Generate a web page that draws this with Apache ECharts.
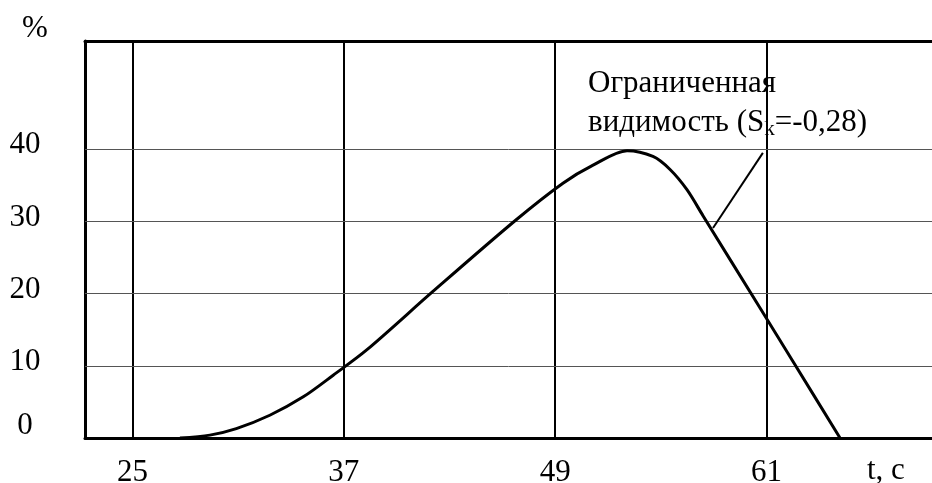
<!DOCTYPE html>
<html>
<head>
<meta charset="utf-8">
<script src="https://cdn.jsdelivr.net/npm/echarts@6/dist/echarts.min.js"></script>
<style>
html,body{margin:0;padding:0;background:#fff;}
#chart{width:932px;height:483px;}
</style>
</head>
<body>
<div id="chart"></div>
<script>
// ---- data ----
const xTicks = [25, 37, 49, 61];
const yTicks = [0, 10, 20, 30, 40];
const gridY = [10, 20, 30, 40];
const curveT = [27.7, 29.4, 30.9, 32.8, 34.7, 36.4, 38.3, 42.06, 46.72, 49.44, 51.15, 53.08, 54.55, 55.52, 56.48, 57.39, 60.63, 62.5, 65.17];
const curveP = [0, 0.4, 1.3, 3.15, 5.7, 8.7, 12.2, 20.3, 30.1, 35.3, 37.8, 39.8, 39.0, 37.2, 34.4, 30.8, 18.0, 10.6, 0];
const leaderT = [57.96, 60.79];
const leaderP = [29.1, 39.5];
const yUnit = '%';
const xUnit = 't, c';
const noteLine1 = 'Ограниченная';
const noteLine2a = 'видимость (S';
const noteSub = 'k';
const noteLine2b = '=-0,28)';

const FONT = 'Liberation Serif';
const chart = echarts.init(document.getElementById('chart'), null, {renderer: 'canvas'});
const xMin = 22.31, xMax = 70.39, yMin = 0, yMax = 55.0;

chart.setOption({
  animation: false,
  backgroundColor: '#fff',
  grid: {left: 85, right: 0, top: 41, bottom: 45, containLabel: false, outerBoundsMode: 'none'},
  xAxis: [{
    type: 'value', min: xMin, max: xMax, position: 'bottom',
    axisLine: {show: true, onZero: false, lineStyle: {color: '#000', width: 3}},
    axisTick: {show: false},
    splitLine: {show: false},
    axisLabel: {customValues: xTicks, color: '#000', fontFamily: FONT, fontSize: 31, margin: 19}
  }, {
    type: 'value', min: xMin, max: xMax, position: 'top',
    axisLine: {show: true, onZero: false, lineStyle: {color: '#000', width: 3}},
    axisTick: {show: false}, splitLine: {show: false}, axisLabel: {show: false}
  }],
  yAxis: {
    type: 'value', min: yMin, max: yMax,
    axisLine: {show: true, onZero: false, lineStyle: {color: '#000', width: 3}},
    axisTick: {show: false},
    splitLine: {show: false},
    axisLabel: {customValues: yTicks, color: '#000', fontFamily: FONT, fontSize: 31,
      align: 'center', margin: 60,
      formatter: v => (v === 0 ? '{z|' + v + '}' : '{n|' + v + '}'),
      rich: {
        n: {fontFamily: FONT, fontSize: 31, color: '#000', padding: [0, 0, 8, 0]},
        z: {fontFamily: FONT, fontSize: 31, color: '#000', padding: [0, 0, 24, 0]}
      }
    }
  },
  series: [{
    type: 'line',
    data: curveT.map((t, i) => [t, curveP[i]]),
    smooth: 0.3,
    showSymbol: false,
    lineStyle: {color: '#000', width: 3},
    z: 5,
    markLine: {
      silent: true, symbol: 'none', label: {show: false},
      data: xTicks.map(v => ({xAxis: v, lineStyle: {color: '#000', width: 2, type: 'solid'}}))
        .concat(gridY.map(v => ({yAxis: v, lineStyle: {color: '#555', width: 1, type: 'solid'}})))
    }
  }, {
    type: 'line',
    data: leaderT.map((t, i) => [t, leaderP[i]]),
    showSymbol: false,
    lineStyle: {color: '#000', width: 2},
    z: 5
  }],
  graphic: [
    {type: 'text', left: 22, top: 13, style: {text: yUnit, fontFamily: FONT, fontSize: 31, fill: '#000'}},
    {type: 'text', left: 867, top: 455, style: {text: xUnit, fontFamily: FONT, fontSize: 31, fill: '#000'}},
    {type: 'text', left: 588, top: 68, style: {
      text: '{a|' + noteLine1 + '}\n{a|' + noteLine2a + '}{s|' + noteSub + '}{a|' + noteLine2b + '}',
      fontFamily: FONT, fontSize: 31, fill: '#000',
      rich: {
        a: {fontFamily: FONT, fontSize: 31, lineHeight: 39, fill: '#000'},
        s: {fontFamily: FONT, fontSize: 21, lineHeight: 39, fill: '#000', padding: [14, 0, 0, 0]}
      }
    }}
  ]
});
</script>
</body>
</html>
